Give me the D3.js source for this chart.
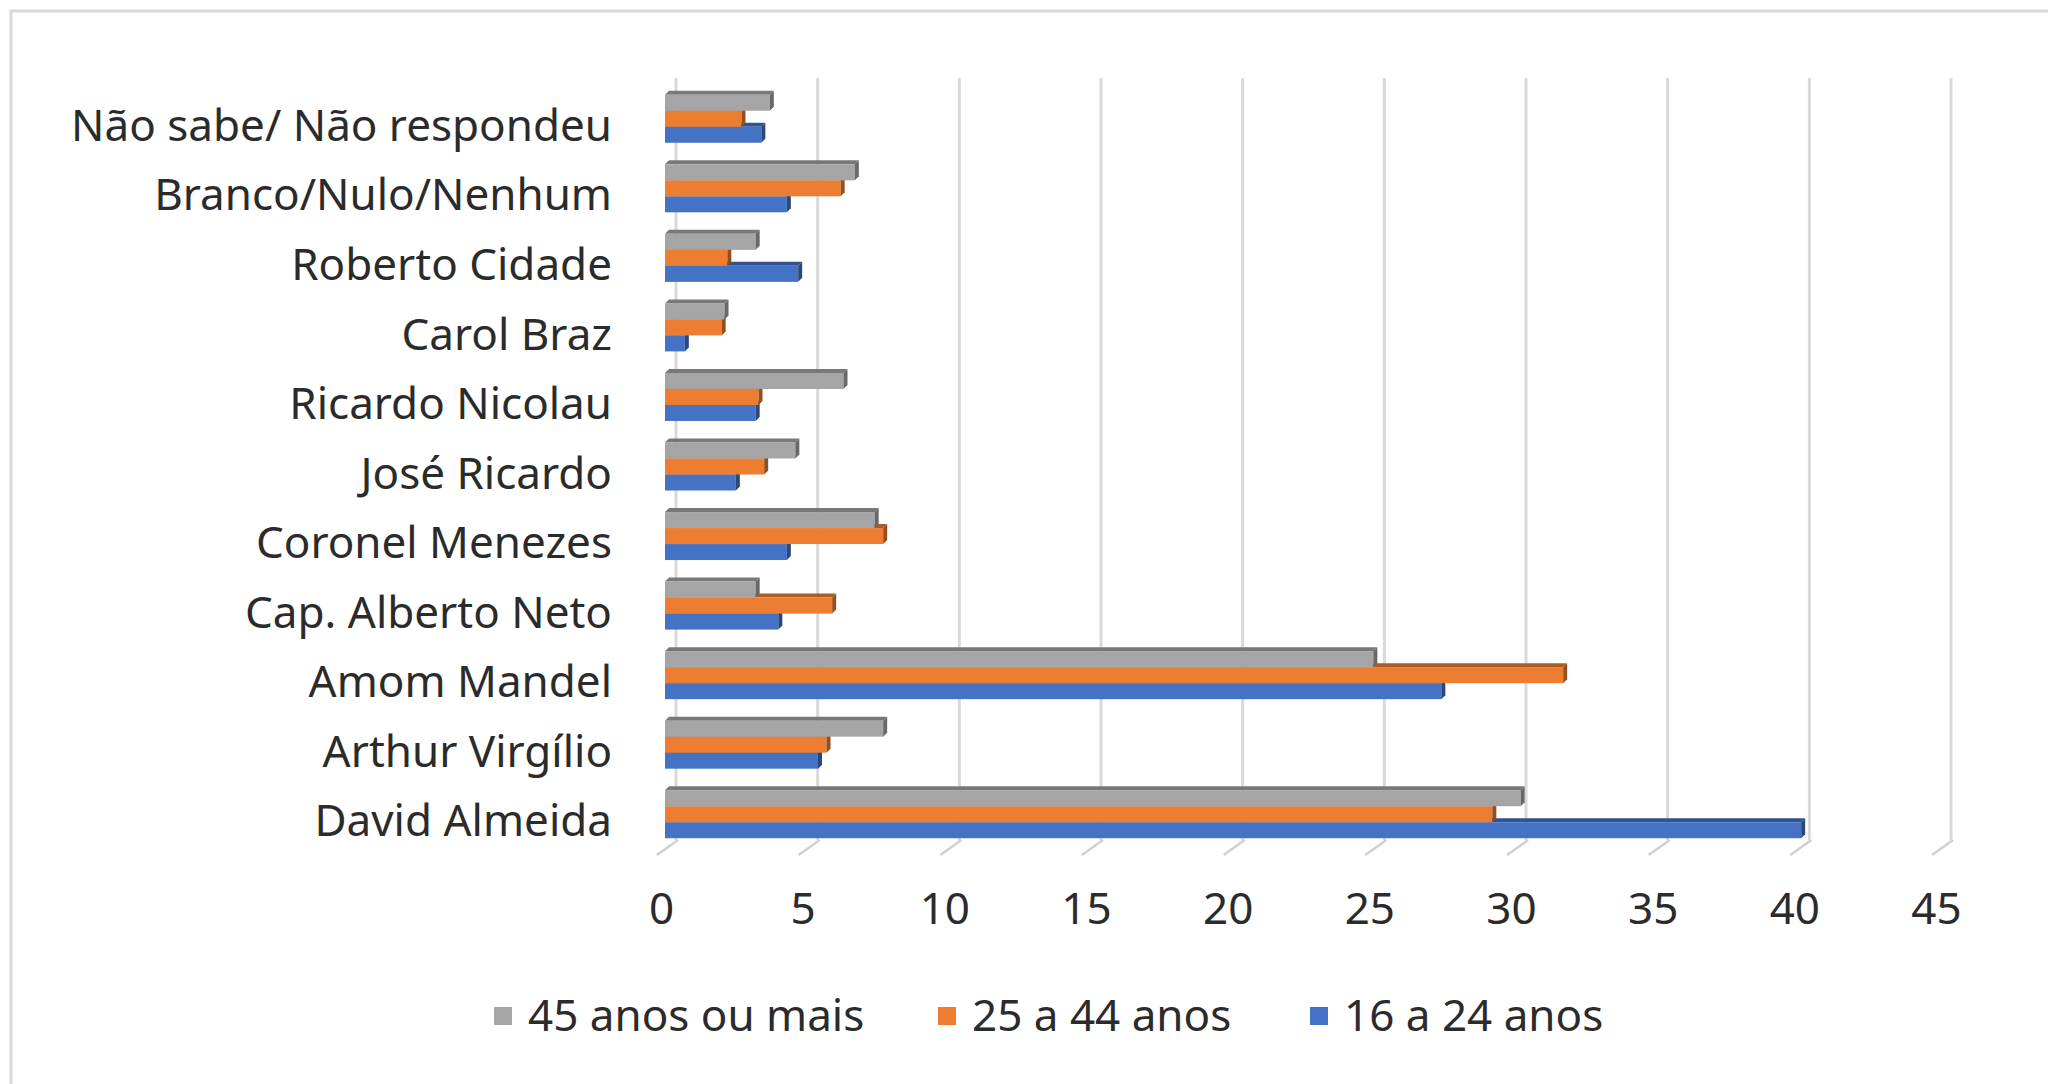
<!DOCTYPE html>
<html lang="pt">
<head>
    <meta charset="utf-8">
    <title>Intenção de voto por faixa etária</title>
    <style>
        body {
            margin: 0;
            background: #fff;
        }

        svg text {
            font-family: "Noto Sans", sans-serif;
            fill: #2b2b2b;
        }
    </style>
</head>
<body>
<svg class="chart"></svg>
<script src="https://d3js.org/d3.v7.min.js"></script>
<script>

  const width = 2048;
  const height = 1084;

  const categories = [
    "Não sabe/ Não respondeu", "Branco/Nulo/Nenhum", "Roberto Cidade", "Carol Braz",
    "Ricardo Nicolau", "José Ricardo", "Coronel Menezes", "Cap. Alberto Neto",
    "Amom Mandel", "Arthur Virgílio", "David Almeida"
  ];
  const seriesNames = ["45 anos ou mais", "25 a 44 anos", "16 a 24 anos"];
  const age45 = [3.7, 6.7, 3.2, 2.1, 6.3, 4.6, 7.4, 3.2, 25.0, 7.7, 30.2];
  const age25 = [2.7, 6.2, 2.2, 2.0, 3.3, 3.5, 7.7, 5.9, 31.7, 5.7, 29.2];
  const age16 = [3.4, 4.3, 4.7, 0.7, 3.2, 2.5, 4.3, 4.0, 27.4, 5.4, 40.1];
  const tickValues = [0, 5, 10, 15, 20, 25, 30, 35, 40, 45];

  const colors = ["#a5a5a5", "#ed7d31", "#4472c4"];
  const series = [age45, age25, age16];
  const fontSize = 44;

  const svg = d3.select(".chart")
    .attr("width", width)
    .attr("height", height);

  // frame (only top and left edges are visible in the crop)
  svg.append("path")
    .attr("d", "M11,1084V11H2048")
    .attr("fill", "none")
    .attr("stroke", "#d9d9d9")
    .attr("stroke-width", 3);

  const x = d3.scaleLinear()
    .domain([0, 45])
    .range([665, 1940]);

  const y = d3.scaleBand()
    .domain(categories)
    .range([60, 873])
    .paddingInner(0.31)
    .paddingOuter(0.5);

  const ySub = d3.scaleBand()
    .domain(seriesNames)
    .range([0, y.bandwidth()]);

  // 3d back wall offset
  const wallDx = 11, wallDy = -15;
  const floorY = 855;

  // gridlines on back wall
  svg.append("g")
    .selectAll("line")
    .data(tickValues)
    .join("line")
    .attr("x1", d => x(d) + wallDx)
    .attr("x2", d => x(d) + wallDx)
    .attr("y1", 78)
    .attr("y2", floorY + wallDy)
    .attr("stroke", "#d9d9d9")
    .attr("stroke-width", 3);

  // floor ticks
  svg.append("g")
    .selectAll("line")
    .data(tickValues)
    .join("line")
    .attr("x1", d => x(d) - 8)
    .attr("x2", d => x(d) + wallDx + 2)
    .attr("y1", floorY)
    .attr("y2", floorY + wallDy)
    .attr("stroke", "#d0d0d0")
    .attr("stroke-width", 2.5);

  // bars, drawn bottom series first so upper fronts cover lower top faces
  const depth = 4;
  const bars = svg.append("g");
  [2, 1, 0].forEach(si => {
    const col = d3.color(colors[si]);
    const dark = col.darker(0.9).formatHex();
    const side = col.darker(1.3).formatHex();
    categories.forEach((cat, ci) => {
      const v = series[si][ci];
      const x0 = x(0), x1 = x(v);
      const y0 = y(cat) + ySub(seriesNames[si]);
      const h = ySub.bandwidth();
      bars.append("polygon")
        .attr("points", [[x0, y0], [x1, y0], [x1 + depth, y0 - depth], [x0 + depth, y0 - depth]].join(" "))
        .attr("fill", dark);
      bars.append("rect")
        .attr("x", x0)
        .attr("y", y0)
        .attr("width", x1 - x0)
        .attr("height", h)
        .attr("fill", colors[si]);
      bars.append("polygon")
        .attr("points", [[x1, y0], [x1 + depth, y0 - depth], [x1 + depth, y0 + h - depth], [x1, y0 + h]].join(" "))
        .attr("fill", side);
    });
  });

  // x axis labels
  const xAxis = svg.append("g")
    .attr("transform", "translate(-4, 890)")
    .call(d3.axisBottom(x).tickValues(tickValues).tickSize(0));
  xAxis.select(".domain").remove();
  xAxis.selectAll("text")
    .attr("font-size", fontSize)
    .attr("fill", "#2b2b2b");

  // category labels
  const yAxis = svg.append("g")
    .attr("transform", "translate(612, 8)")
    .call(d3.axisLeft(y).tickSize(0).tickPadding(0));
  yAxis.select(".domain").remove();
  yAxis.selectAll("text")
    .attr("font-size", fontSize)
    .attr("fill", "#2b2b2b");

  // legend
  const legendX = [494, 938, 1310];
  const legend = svg.append("g")
    .selectAll("g")
    .data(seriesNames)
    .join("g")
    .attr("transform", (d, i) => `translate(${legendX[i]}, 1016)`);
  legend.append("rect")
    .attr("x", 0)
    .attr("y", -9)
    .attr("width", 18)
    .attr("height", 18)
    .attr("fill", (d, i) => colors[i]);
  legend.append("text")
    .attr("x", 34)
    .attr("dy", "0.35em")
    .attr("font-size", fontSize)
    .text(d => d);

</script>
</body>
</html>
